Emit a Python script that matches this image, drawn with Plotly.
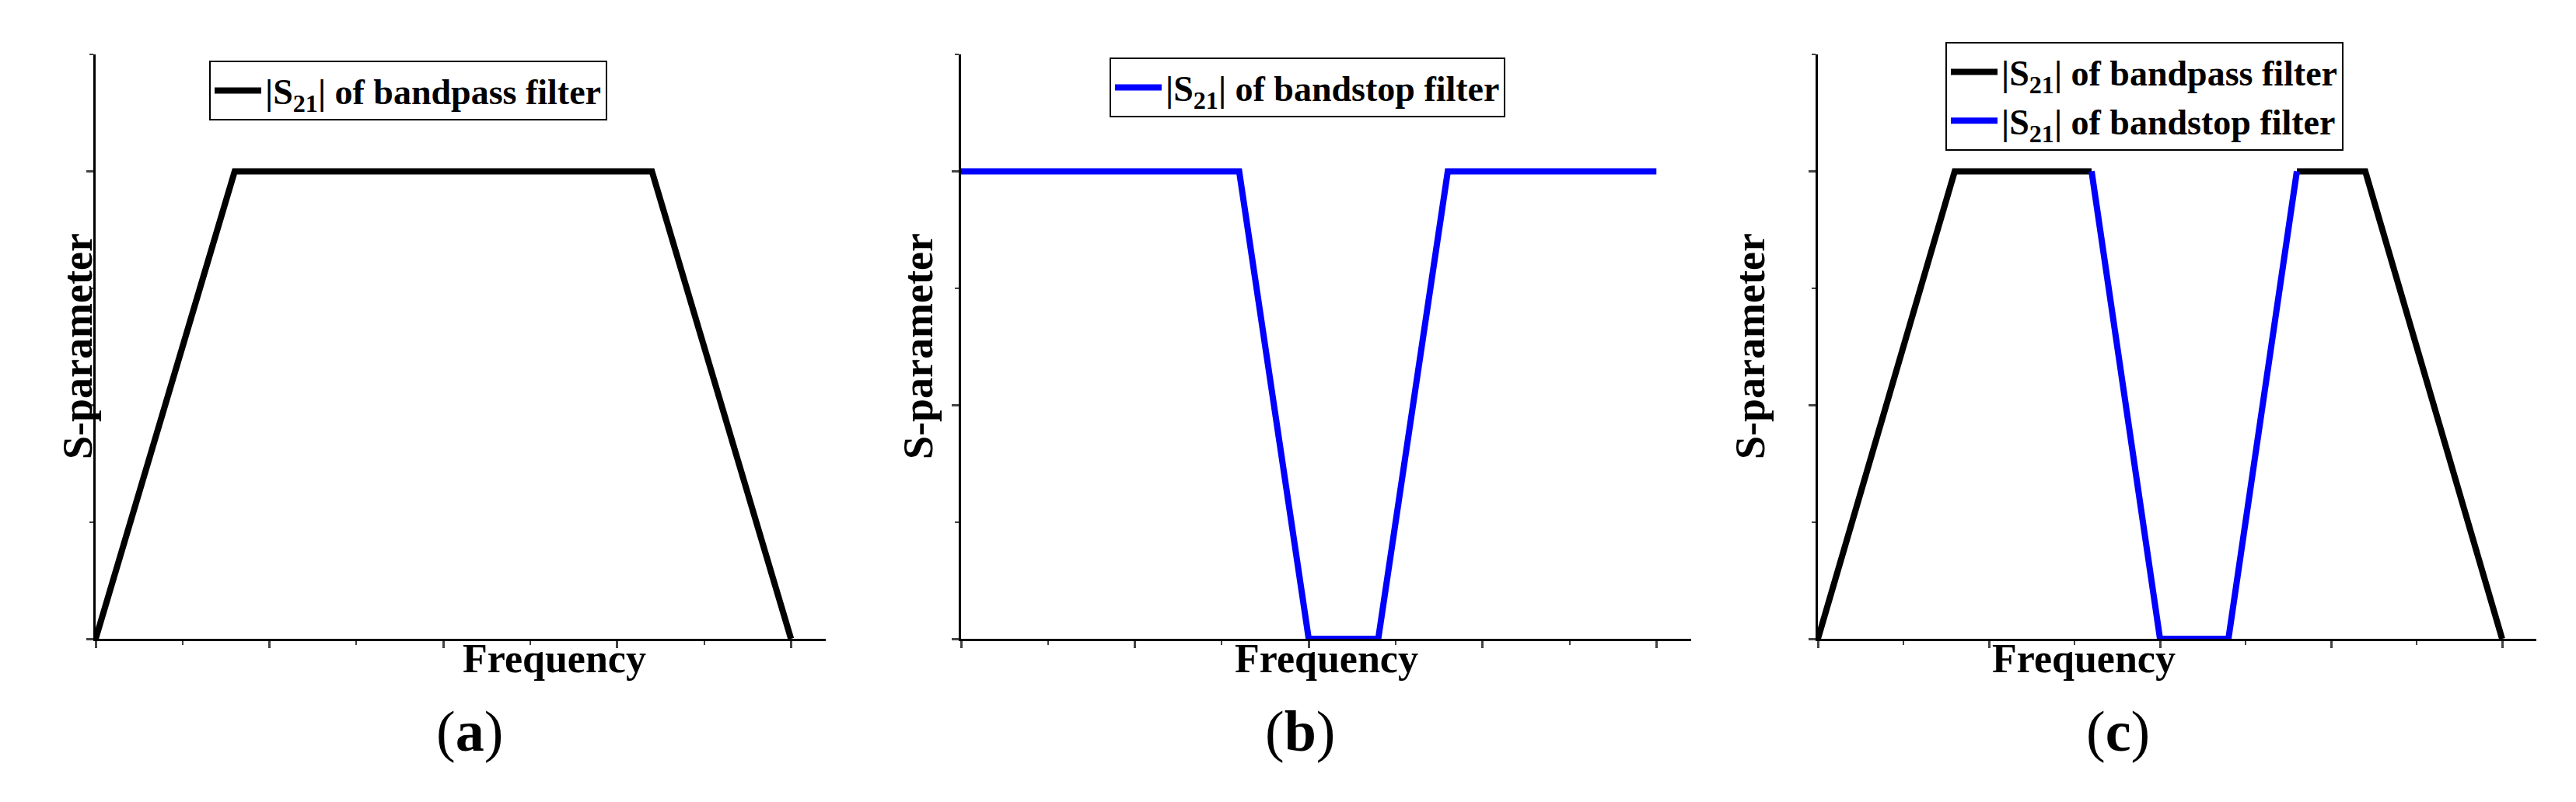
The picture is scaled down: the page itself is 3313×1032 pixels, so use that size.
import plotly.graph_objects as go

bp_x = [0, 0.8, 3.2, 4]
bp_y = [0, 2, 2, 0]
bs_x = [0, 1.6, 2.0, 2.4, 2.8, 4]
bs_y = [2, 2, 0, 0, 2, 2]
c_bp_x = [0, 0.8, 1.6, None, 2.8, 3.2, 4]
c_bp_y = [0, 2, 2, None, 2, 2, 0]
c_bs_x = [1.6, 2.0, 2.4, 2.8]
c_bs_y = [2, 0, 0, 2]
panel_labels = ["(a)", "(b)", "(c)"]
bp_name = "<b>|S<sub>21</sub>| of bandpass filter</b>"
bs_name = "<b>|S<sub>21</sub>| of bandstop filter</b>"

W, H = 3313, 1032
FONT = "Liberation Serif"
BLUE = "#0000ff"
fig = go.Figure()
fig.add_trace(go.Scatter(x=bp_x, y=bp_y, mode="lines", name=bp_name, line=dict(color="black", width=8),
                         xaxis="x", yaxis="y", legend="legend", showlegend=True))
fig.add_trace(go.Scatter(x=bs_x, y=bs_y, mode="lines", name=bs_name, line=dict(color=BLUE, width=8),
                         xaxis="x2", yaxis="y2", legend="legend2", showlegend=True))
fig.add_trace(go.Scatter(x=c_bp_x, y=c_bp_y, mode="lines", name=bp_name, line=dict(color="black", width=8),
                         xaxis="x3", yaxis="y3", legend="legend3", connectgaps=False, showlegend=True))
fig.add_trace(go.Scatter(x=c_bs_x, y=c_bs_y, mode="lines", name=bs_name, line=dict(color=BLUE, width=8),
                         xaxis="x3", yaxis="y3", legend="legend3", showlegend=True))

doms = [(115, 1054), (1228, 2167), (2330, 3254)]
ydom = [(H - 814) / H, (H - 62) / H]
legpos = [(261, 70), (1419, 66), (2494, 46)]
lay = dict(width=W, height=H, margin=dict(l=0, r=0, t=0, b=0), plot_bgcolor="white",
           paper_bgcolor="white", font=dict(family=FONT, color="black"), showlegend=True)
ann = []
for i, (a, b) in enumerate(doms):
    s = "" if i == 0 else str(i + 1)
    lay["xaxis" + s] = dict(domain=[a / W, b / W], range=[0, 4.2], showline=True, linecolor="black",
                            linewidth=3, ticks="outside", ticklen=9, tickwidth=3, dtick=1, tick0=0,
                            showticklabels=False, showgrid=False, zeroline=False,
                            minor=dict(ticks="outside", ticklen=5, tickwidth=2, dtick=0.5, tick0=0),
                            anchor="y" + s)
    lay["yaxis" + s] = dict(domain=ydom, range=[0, 2.5], showline=True, linecolor="black",
                            linewidth=3, ticks="outside", ticklen=9, tickwidth=3, dtick=1, tick0=0,
                            showticklabels=False, showgrid=False, zeroline=False,
                            minor=dict(ticks="outside", ticklen=5, tickwidth=2, dtick=0.5, tick0=0),
                            anchor="x" + s)
    lx, ly = legpos[i]
    lay["legend" + s] = dict(x=lx / W, y=1 - ly / H, xanchor="left", yanchor="top",
                             bordercolor="black", borderwidth=2, bgcolor="white",
                             font=dict(family=FONT, size=46, color="black"),
                             itemwidth=60, tracegroupgap=0, visible=True)
    ann.append(dict(x=(a + b) / 2 / W, y=1 - 870 / H, xref="paper", yref="paper", showarrow=False,
                    text="<b>Frequency</b>", font=dict(size=52, family=FONT)))
    ann.append(dict(x=(a - 55) / W, y=sum(ydom) / 2, xref="paper", yref="paper", showarrow=False,
                    text="<b>S-parameter</b>", textangle=-90, font=dict(size=54, family=FONT)))
    lbl = panel_labels[i]
    ann.append(dict(x=(a + b) / 2 / W - 0.01, y=1 - 976 / H, xref="paper", yref="paper", showarrow=False,
                    text="(<b>" + lbl[1] + "</b>)", font=dict(size=74, family=FONT)))
lay["annotations"] = ann
fig.update_layout(**lay)
fig.write_html("out.html")
